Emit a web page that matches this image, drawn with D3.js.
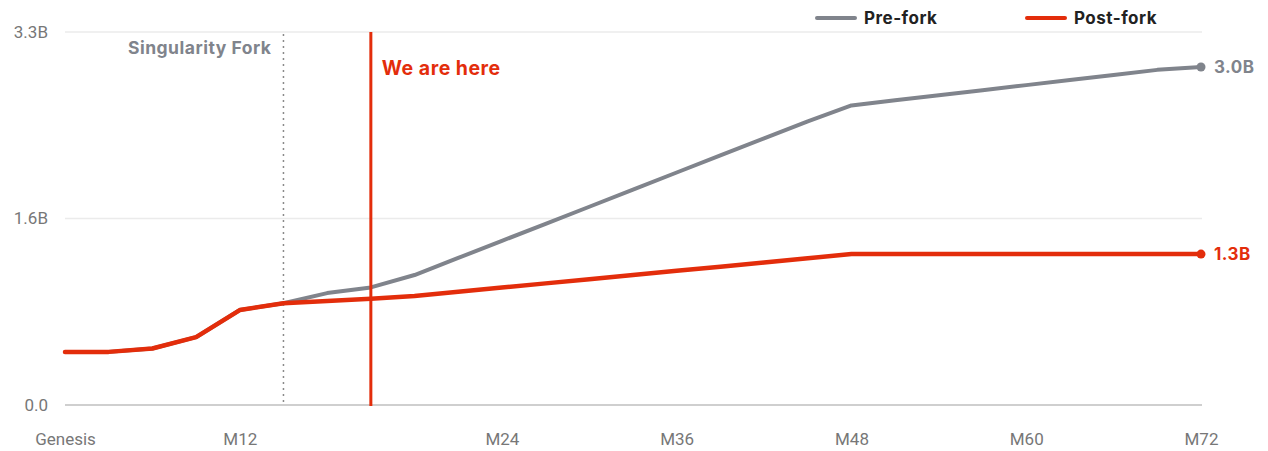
<!DOCTYPE html>
<html>
  <head>
    <title>Pre-fork vs Post-fork</title>
    <script src="https://d3js.org/d3.v7.min.js"></script>
    <style>
    body { margin: 0; background: white; }
    text { font-family: Roboto, "Noto Sans", sans-serif; }
    .tick text { font-size: 17px; fill: #777; }
    .bold { font-family: Inter, Roboto, sans-serif; font-weight: 700; letter-spacing: 0.5px; }
    </style>
  </head>
  <body>
      <script>
          var width = 1268;
          var height = 451;

          // 27 points, every 3 months-ish, labels only on some of them
          var months = ["Genesis","M3","M6","M9","M12","M15","M17","M19","M21","M22","M24",
                        "M27","M30","M33","M36","M39","M42","M45","M48","M51","M54","M57",
                        "M60","M63","M66","M69","M72"];
          var tickMonths = ["Genesis","M12","M24","M36","M48","M60","M72"];
          var yTicks = [0, 1.65, 3.3];

          var preFork = [0.47,0.47,0.50,0.60,0.84,0.90,0.99,1.04,1.15,1.301,1.452,1.603,1.754,
                         1.906,2.057,2.208,2.359,2.51,2.65,2.696,2.74,2.785,2.83,2.875,2.92,2.965,2.99];
          var postFork = [0.47,0.47,0.50,0.60,0.84,0.90,0.92,0.94,0.965,1.002,1.039,1.076,1.113,
                          1.15,1.187,1.224,1.261,1.298,1.335,1.335,1.335,1.335,1.335,1.335,1.335,1.335,1.335];

          var forkMonth = "M15";
          var nowMonth = "M19";

          var gray = "#80848c";
          var red = "#e32d0b";

          var svg = d3.select("body")
                      .append("svg")
                      .attr("height", height)
                      .attr("width", width)

          var x = d3.scalePoint()
                    .domain(months)
                    .range([65, 1201])

          var y = d3.scaleLinear()
                    .domain([0, 3.3])
                    .range([405, 32])

          // grid
          svg.append("g")
             .selectAll("line")
             .data(yTicks)
             .enter()
             .append("line")
             .attr("x1", 65)
             .attr("x2", 1202)
             .attr("y1", d => y(d))
             .attr("y2", d => y(d))
             .attr("stroke", d => d == 0 ? "#cfcfcf" : "#ebebeb")
             .attr("stroke-width", d => d == 0 ? 2 : 1.5)

          // y labels
          svg.append("g")
             .attr("class", "tick")
             .selectAll("text")
             .data(yTicks)
             .enter()
             .append("text")
             .attr("x", 48)
             .attr("y", d => y(d))
             .attr("dy", "0.35em")
             .attr("text-anchor", "end")
             .text(d => d == 0 ? "0.0" : d.toFixed(1) + "B")

          // x axis
          var xAxis = d3.axisBottom(x)
                        .tickValues(tickMonths)
                        .tickSize(0)
                        .tickPadding(28)
          svg.append("g")
             .attr("transform", "translate(0,405)")
             .call(xAxis)
             .call(g => g.select(".domain").remove())

          // fork marker
          svg.append("line")
             .attr("x1", x(forkMonth)).attr("x2", x(forkMonth))
             .attr("y1", 34).attr("y2", 402)
             .attr("stroke", "#8a8a8a")
             .attr("stroke-width", 1.5)
             .attr("stroke-dasharray", "2,4")
          svg.append("text")
             .attr("class", "bold")
             .attr("x", x(forkMonth) - 12)
             .attr("y", 48)
             .attr("dy", "0.35em")
             .attr("text-anchor", "end")
             .attr("font-size", 17.5)
             .attr("fill", gray)
             .text("Singularity Fork")

          var line = d3.line()
                       .x((d, i) => x(months[i]))
                       .y(d => y(d))

          svg.append("path")
             .attr("d", line(preFork))
             .attr("fill", "none")
             .attr("stroke", gray)
             .attr("stroke-width", 4)
             .attr("stroke-linejoin", "round")

          svg.append("path")
             .attr("d", line(postFork))
             .attr("fill", "none")
             .attr("stroke", red)
             .attr("stroke-width", 4.5)
             .attr("stroke-linejoin", "round")
             .attr("stroke-linecap", "round")

          // "we are here" marker
          svg.append("line")
             .attr("x1", x(nowMonth)).attr("x2", x(nowMonth))
             .attr("y1", 32).attr("y2", 406)
             .attr("stroke", red)
             .attr("stroke-width", 3)
          svg.append("text")
             .attr("class", "bold")
             .attr("x", x(nowMonth) + 11)
             .attr("y", 68)
             .attr("dy", "0.35em")
             .attr("font-size", 19.5)
             .attr("fill", red)
             .text("We are here")

          // end points and labels
          var ends = [{v: preFork[preFork.length - 1], c: gray},
                      {v: postFork[postFork.length - 1], c: red}]
          var last = months[months.length - 1]
          svg.selectAll(".end")
             .data(ends)
             .enter()
             .append("circle")
             .attr("cx", x(last))
             .attr("cy", d => y(d.v))
             .attr("r", 4.5)
             .attr("fill", d => d.c)
          svg.selectAll(".endlabel")
             .data(ends)
             .enter()
             .append("text")
             .attr("class", "bold")
             .attr("x", x(last) + 13)
             .attr("y", d => y(d.v))
             .attr("dy", "0.35em")
             .attr("font-size", 17)
             .attr("fill", d => d.c)
             .text(d => d.v.toFixed(1) + "B")

          // legend
          var legend = [{name: "Pre-fork", c: gray, x: 817},
                        {name: "Post-fork", c: red, x: 1027}]
          var lg = svg.selectAll(".legend")
                      .data(legend)
                      .enter()
                      .append("g")
                      .attr("transform", d => "translate(" + d.x + ",18)")
          lg.append("line")
            .attr("x1", 0).attr("x2", 38)
            .attr("stroke", d => d.c)
            .attr("stroke-width", 4)
            .attr("stroke-linecap", "round")
          lg.append("text")
            .attr("class", "bold")
            .attr("x", 47)
            .attr("dy", "0.35em")
            .attr("font-size", 17)
            .attr("fill", "#222")
            .text(d => d.name)
      </script>
  </body>
</html>
